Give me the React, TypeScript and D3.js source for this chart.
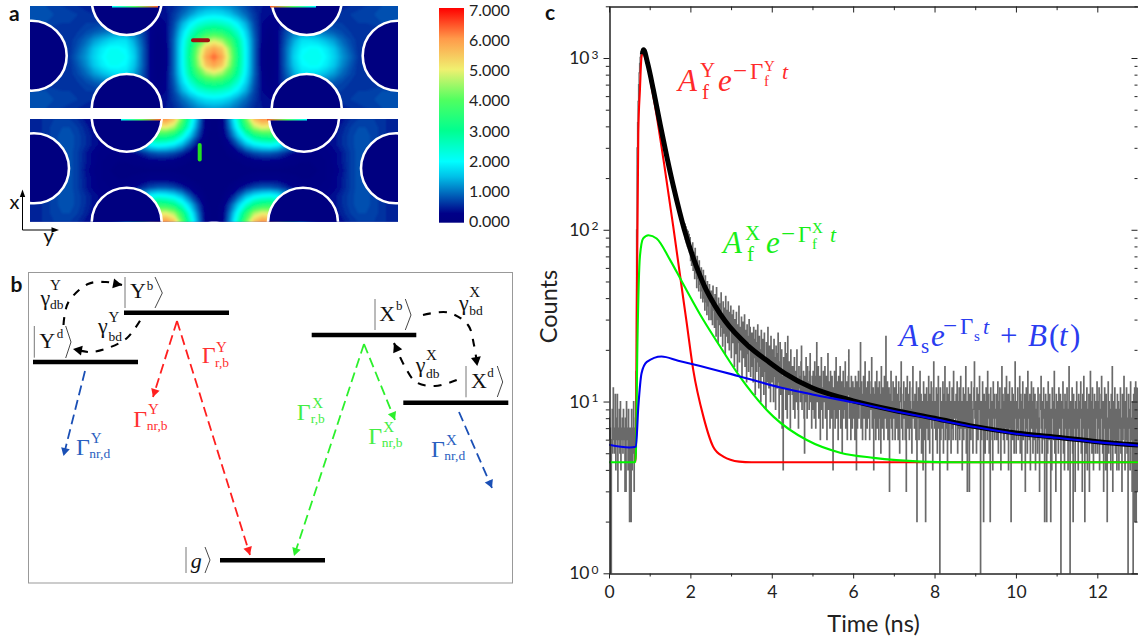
import { useEffect, useRef } from 'react';
import * as d3 from 'd3';

// ---- panel a: field maps, one quarter of each cell (the map is mirrored both ways)
const topField = [
  [.8,.8,.8,.75,.7,.65,.6,.55,.5,.5,.5,.5,.5,.5,.5,.45,.45,.5,.6,.8,1.0,1.2,1.3,1.35],
  [.85,.85,.85,.8,.8,.75,.7,.65,.6,.55,.5,.5,.5,.5,.45,.4,.4,.45,.7,1.0,1.3,1.6,1.8,1.85],
  [.8,.8,.8,.75,.7,.7,.7,.7,.7,.75,.8,.8,.8,.7,.5,.35,.3,.4,.8,1.4,1.9,2.3,2.5,2.6],
  [.6,.6,.6,.6,.6,.65,.7,.8,.9,1.0,1.1,1.2,1.2,1.1,.8,.4,.2,.4,.9,1.7,2.4,3.0,3.4,3.5],
  [.6,.6,.6,.6,.6,.65,.8,1.0,1.3,1.5,1.7,1.8,1.8,1.4,.9,.4,.15,.35,1.0,1.9,2.9,3.8,4.5,4.8],
  [.6,.6,.6,.6,.6,.65,.9,1.2,1.6,1.9,2.1,2.1,2.0,1.6,1.0,.4,.1,.3,1.0,2.0,3.1,4.4,5.5,5.9],
  [.6,.6,.6,.6,.6,.7,1.0,1.3,1.7,2.0,2.2,2.2,2.1,1.7,1.0,.4,.1,.3,1.0,2.0,3.2,4.6,5.9,6.4],
];
const bottomField = [
  [.5,.55,.65,.7,.7,.7,.6,.45,.4,.4,.5,1,2,3,4,5,6,6.1,5.6,4.2,2.6,1.3,.2,0],
  [.5,.55,.65,.75,.8,.8,.7,.55,.4,.4,.5,1,2,3,3.8,4.5,4.9,5.0,4.6,3.5,2.2,1.1,.2,0],
  [.5,.55,.65,.75,.85,.85,.75,.6,.45,.35,.5,.9,1.6,2.3,2.9,3.2,3.5,3.4,3.1,2.4,1.6,.8,.15,0],
  [.5,.55,.65,.75,.85,.85,.75,.6,.45,.35,.2,.5,.9,1.2,1.5,2,2.2,2.1,1.9,1.5,.9,.4,.1,0],
  [.5,.55,.65,.75,.85,.85,.7,.5,.35,.25,.2,.2,.3,.4,.6,.8,.9,.9,.8,.6,.35,.15,.05,0],
  [.5,.55,.65,.75,.85,.85,.7,.5,.35,.2,.15,.1,.1,.15,.2,.3,.3,.3,.25,.15,.1,.05,0,0],
  [.5,.55,.65,.75,.85,.85,.7,.45,.3,.2,.1,.05,.05,.05,.05,.05,.05,.05,.05,.05,0,0,0,0],
];
const colorValues = [0, 0.3, 1, 1.5, 2, 3, 4, 5, 6, 7];
const colorStops = ['#000080', '#000088', '#0070c0', '#00c0e8', '#00ffff', '#00ff90', '#50ff60', '#f0f070', '#ff9a4a', '#ff0000'];
const colorbarLabels = ['7.000', '6.000', '5.000', '4.000', '3.000', '2.000', '1.000', '0.000'];

const topHoles = [[126.7, 0], [306.7, 0], [126.7, 109], [306.7, 109], [31.7, 55.7], [397.7, 55.7]];
const bottomHoles = [[126.7, 116.7], [304, 116.7], [126.7, 222.7], [303, 222.7], [34, 168.3], [396, 168.3]];

// ---- panel b: level scheme
const levels = [
  [124, 229, 312.7], [33, 138, 362], [311.7, 416.3, 335], [403.3, 508.3, 402.7], [220, 325, 560.3],
];
const kets = [
  { main: 'Y', sup: 'b', bar: [125, 277, 308], mx: 130, my: 298, sx: 146.7, sy: 290, angle: [155, 162.3, 277, 293, 308] },
  { main: 'Y', sup: 'd', bar: [34.3, 326, 357.7], mx: 39.3, my: 347.7, sx: 56.7, sy: 338, angle: [65.7, 71, 326, 342, 358] },
  { main: 'X', sup: 'b', bar: [375, 299, 330], mx: 379.3, my: 321, sx: 396, sy: 310, angle: [405.3, 411, 299, 315, 330] },
  { main: 'X', sup: 'd', bar: [466, 366, 397.3], mx: 471, my: 388.3, sx: 487.3, sy: 377.3, angle: [497.3, 502.7, 366, 382, 397] },
  { main: 'g', sup: '', bar: [186, 547, 573], mx: 190.7, my: 568, sx: 0, sy: 0, angle: [205, 210, 547, 560, 573] },
];
const straightArrows = [
  { color: '#ff1f1f', pts: [[177, 321], [153, 397]] },
  { color: '#ff1f1f', pts: [[177, 321], [250, 555]] },
  { color: '#1a4fb5', pts: [[85, 371], [63.5, 456]] },
  { color: '#2cf02c', pts: [[364, 344], [294, 556]] },
  { color: '#2cf02c', pts: [[364, 344], [395, 420]] },
  { color: '#1a4fb5', pts: [[459, 412], [492, 488]] },
];
const curvedArrows = [
  [[63.5, 325], [68, 303], [88, 284], [106, 282], [122, 285]],
  [[140, 320.7], [127, 338], [108, 348], [90, 352], [73, 349]],
  [[423, 315], [448, 312.5], [468, 325], [474, 345], [477.3, 366]],
  [[456.7, 380], [435, 386], [416, 382], [404, 365], [394, 343]],
];
const rateLabels = [
  { color: '#111', sym: 'γ', sup: 'Y', sub: 'db', x: 40.5, y: 305, ux: 50, uy: 290, bx: 50, by: 309 },
  { color: '#111', sym: 'γ', sup: 'Y', sub: 'bd', x: 98, y: 333, ux: 108.5, uy: 322, bx: 108.5, by: 340.7 },
  { color: '#ff3030', sym: 'Γ', sup: 'Y', sub: 'r,b', x: 201.7, y: 363, ux: 216, uy: 351.7, bx: 215, by: 366.7 },
  { color: '#ff3030', sym: 'Γ', sup: 'Y', sub: 'nr,b', x: 133.3, y: 426.7, ux: 148, uy: 414, bx: 146.7, by: 430 },
  { color: '#2a5fc0', sym: 'Γ', sup: 'Y', sub: 'nr,d', x: 76, y: 455, ux: 90.7, uy: 442.7, bx: 89.3, by: 458.3 },
  { color: '#44ee44', sym: 'Γ', sup: 'X', sub: 'r,b', x: 296.7, y: 420, ux: 312.3, uy: 408.3, bx: 310.7, by: 423.3 },
  { color: '#44ee44', sym: 'Γ', sup: 'X', sub: 'nr,b', x: 368.3, y: 444, ux: 383.3, uy: 431.7, bx: 381.7, by: 447.3 },
  { color: '#2a5fc0', sym: 'Γ', sup: 'X', sub: 'nr,d', x: 431, y: 457.3, ux: 446, uy: 445, bx: 444.3, by: 460 },
  { color: '#111', sym: 'γ', sup: 'X', sub: 'bd', x: 459, y: 310, ux: 469.3, uy: 297.3, bx: 469.3, by: 315 },
  { color: '#111', sym: 'γ', sup: 'X', sub: 'db', x: 415.7, y: 371.7, ux: 426, uy: 360, bx: 426, by: 377.7 },
];

// ---- panel c: decay traces, [time ns, counts]
const binWidth = 0.0125;
const noiseCounts = [
  // 0.0
  8,6,7,1,1,6,9,5,12,6,7,5,11,4,8,6,11,3,7,6,9,5,10,4,7,6,8,5,9,6,7,3,8,3,10,6,7,4,9,6,
  // 0.5
  2,7,5,2,9,4,7,5,10,3,6,7,8,15,100,300,420,560,700,820,930,1010,1060,1090,1100,1090,1075,1060,1040,1020,1000,980,960,930,910,890,870,850,830,815,
  // 1.0
  800,775,750,727,704,682,660,640,620,600,580,562,545,528,510,494,478,462,447,433,420,406,392,380,367,355,343,332,320,310,300,290,280,270,261,252,244,236,228,222,
  // 1.5
  222,215,209,203,197,191,185,179,174,169,164,159,154,149,145,140,136,132,128,124,120,116,113,110,106,103,100,98,96,108,88,104,84,100,80,98,78,94,74,90,
  // 2.0
  66,80,62,72,84,58,74,66,52,78,56,64,46,70,58,52,44,66,54,48,40,60,50,44,38,58,46,40,34,54,44,38,32,50,42,36,30,48,38,44,
  // 2.5
  30,44,36,28,47,34,40,27,42,33,24,46,35,30,22,40,33,28,37,24,43,31,27,21,38,30,25,35,19,41,29,24,34,22,38,28,20,33,26,36,
  // 3.0
  18,32,25,22,34,27,16,30,24,19,33,26,15,28,22,36,17,27,23,20,31,14,25,29,18,23,32,16,26,21,13,28,24,19,15,30,22,27,14,25,
  // 3.5
  16,25,20,13,27,18,23,11,26,19,15,22,28,17,12,24,20,16,10,26,18,14,23,21,11,25,17,15,9,22,19,13,27,16,12,21,18,10,24,15,
  // 4.0
  13,20,16,10,23,14,18,9,21,15,12,19,25,13,8,17,22,11,15,20,7,14,4,18,12,16,22,9,14,19,8,24,13,11,17,15,7,20,12,16,
  // 4.5
  11,16,9,14,18,8,12,15,10,20,13,9,7,16,12,14,10,17,21,9,13,11,15,8,5,14,10,18,12,8,16,11,13,9,15,19,10,12,7,14,
  // 5.0
  9,15,11,8,17,13,7,14,22,10,12,16,8,11,14,6,13,18,9,12,7,15,10,13,16,8,11,14,6,12,19,9,13,10,7,15,11,8,14,12,
  // 5.5
  4,12,9,15,7,11,18,8,13,10,6,14,9,12,16,7,10,13,5,11,15,8,12,9,17,7,10,13,6,11,14,20,8,12,9,6,14,10,7,13,
  // 6.0
  8,12,10,6,14,9,4,13,7,11,15,8,10,12,22,7,13,9,6,11,14,8,10,17,6,12,9,7,13,10,8,15,6,11,9,13,18,7,10,12,
  // 6.5
  4,11,8,13,6,10,15,7,12,9,6,13,8,11,5,16,9,7,12,10,6,14,8,11,24,7,10,13,6,9,12,3,8,11,15,7,10,6,13,9,
  // 7.0
  8,12,6,10,14,7,9,11,6,13,8,5,10,12,17,7,9,6,11,13,8,10,6,12,3,9,14,7,11,8,6,13,10,7,9,5,12,16,8,10,
  // 7.5
  7,11,9,6,13,2,8,10,12,6,9,15,7,11,5,10,8,4,13,9,6,11,2,8,12,7,10,6,14,9,5,11,8,13,7,10,4,12,17,8,
  // 8.0
  7,10,6,12,9,5,11,14,7,8,1,12,6,10,9,7,13,5,11,8,16,6,10,7,12,4,9,11,6,13,8,10,5,9,12,7,6,15,8,10,
  // 8.5
  9,6,11,8,13,5,10,7,12,6,9,14,7,10,4,8,12,6,11,9,7,16,5,10,3,8,12,7,3,11,9,6,13,10,7,5,9,12,17,8,
  // 9.0
  7,10,5,12,8,6,11,9,14,7,1,10,6,8,13,7,2,11,9,5,10,12,7,6,15,8,11,5,9,2,12,7,10,6,4,13,8,11,6,9,
  // 9.5
  8,11,6,9,13,5,10,7,12,8,4,9,16,7,11,6,10,5,12,8,7,14,6,9,11,4,8,13,7,10,2,9,12,6,11,7,5,10,17,8,
  // 10.0
  5,10,7,12,6,9,8,14,5,11,7,4,10,13,6,9,8,11,3,7,12,9,5,15,8,10,6,11,4,9,13,7,10,5,12,8,6,11,4,9,
  // 10.5
  7,10,5,12,8,6,3,11,9,14,7,5,10,8,12,6,2,9,11,7,2,10,5,13,8,6,11,7,2,9,4,12,8,10,6,15,5,9,3,11,
  // 11.0
  6,10,8,5,12,7,9,11,1,6,10,8,13,5,9,4,11,7,10,6,12,8,4,9,16,7,1,10,6,8,12,5,2,11,9,7,3,10,6,13,
  // 11.5
  7,9,4,11,6,10,8,13,5,9,3,11,7,14,6,2,10,8,5,12,4,9,7,11,3,8,15,6,10,5,12,7,4,9,11,6,5,10,8,13,
  // 12.0
  5,10,7,12,4,9,6,11,14,8,5,10,3,7,12,9,4,11,6,2,8,13,5,10,7,9,4,11,6,16,3,10,8,6,12,5,9,7,4,11,
  // 12.5
  6,10,4,9,7,12,5,8,3,11,6,9,14,7,4,10,6,12,5,8,1,11,7,9,4,13,6,8,3,10,1,11,2,12,2,13,2,12,3,12,
];
const blackCurve = [
  [0.82, 1050], [0.85, 1116], [0.95, 930], [1.09, 653], [1.25, 420], [1.42, 267], [1.58, 180], [1.74, 126], [1.87, 96.6],
  [2.0, 76.7], [2.15, 61], [2.36, 46.2], [2.6, 36.3], [2.85, 29.5], [3.42, 21.1], [3.9, 17.2], [4.32, 14.6], [5, 12],
  [5.68, 10.6], [6, 10.1], [7, 8.9], [8, 8.0], [9, 7.14], [10, 6.56], [11, 6.2], [12, 5.84], [13, 5.58],
];
const redCurve = [
  [0.64, 4.43], [0.66, 5], [0.68, 30], [0.72, 365], [0.76, 653], [0.8, 1020], [0.84, 1070], [1.09, 596], [1.34, 255],
  [1.58, 104], [1.83, 39], [1.9, 29.8], [2.07, 15.3], [2.32, 8.17], [2.56, 5.46], [2.81, 4.78], [3.2, 4.47], [3.5, 4.43], [13, 4.43],
];
const greenCurve = [
  [0, 4.43], [0.64, 4.43], [0.66, 5], [0.7, 22.8], [0.76, 70], [0.84, 89], [0.97, 93], [1.17, 89], [1.5, 66.8], [1.79, 50],
  [2.32, 29.8], [2.73, 20.9], [3.22, 13.9], [4.04, 8.17], [4.86, 5.97], [5.68, 5.04], [6.5, 4.7], [7.68, 4.47], [8.5, 4.43], [13, 4.43],
];
const blueCurve = [
  [0, 5.6], [0.5, 5.4], [0.66, 5.45], [0.72, 9.3], [0.8, 14.6], [0.93, 17], [1.29, 18.3], [1.7, 17.3], [2.06, 16.5], [3.17, 14.1],
  [4.32, 11.9], [5, 11], [6, 9.9], [7, 8.8], [8, 7.9], [9, 7.1], [10, 6.5], [11, 6.15], [12, 5.8], [13, 5.55],
];
const xMajor = [0, 2, 4, 6, 8, 10, 12];
const xMinor = [1, 3, 5, 7, 9, 11, 13];
const yMajor = [1, 10, 100, 1000];
const yMinor = [2, 3, 4, 5, 6, 7, 8, 9, 20, 30, 40, 50, 60, 70, 80, 90, 200, 300, 400, 500, 600, 700, 800, 900, 2000];

// text, x, y, size, italic
const formulaRed = [
  ['A', 678, 90.7, 31, 1], ['Y', 700, 77, 21, 0], ['f', 702, 98.5, 21, 0], ['e', 718, 90.7, 31, 1], ['−', 733, 79, 25, 0],
  ['Γ', 750, 79, 23, 0], ['Y', 764, 70.7, 15, 0], ['f', 764, 86, 15, 0], ['t', 782, 79, 22, 1],
];
const formulaGreen = [
  ['A', 723, 253, 31, 1], ['X', 745, 239.5, 21, 0], ['f', 747, 261, 21, 0], ['e', 766, 253, 31, 1], ['−', 781, 242, 25, 0],
  ['Γ', 798, 242, 23, 0], ['X', 812, 233, 15, 0], ['f', 812, 249, 15, 0], ['t', 830, 242, 22, 1],
];
const formulaBlue = [
  ['A', 899, 346, 31, 1], ['s', 921, 353, 21, 0], ['e', 931, 346, 31, 1], ['−', 943, 334, 25, 0], ['Γ', 960, 334, 23, 0],
  ['s', 974, 341, 15, 0], ['t', 983, 334, 22, 1], ['+', 1000, 346, 31, 0], ['B', 1028, 346, 31, 1], ['(', 1049, 346, 31, 0],
  ['t', 1059, 346, 31, 1], [')', 1070, 346, 31, 0],
];

const SANS = 'Lato, sans-serif';
const SERIF = '"Liberation Serif", serif';

const mirror = (rows: number[][]) => {
  const wide = rows.map((r) => r.concat(r.slice(0, -1).reverse()));
  const all = wide.concat(wide.slice(0, -1).reverse());
  return { values: all.flat(), nx: all[0].length, ny: all.length };
};

const App = () => {
  const svgRef = useRef<SVGSVGElement>(null);

  useEffect(() => {
    const svg = d3.select(svgRef.current);
    svg.selectAll('*').remove();

    const defs = svg.append('defs');
    // the map group is scaled by the grid cell, so this is in cell units
    defs.append('filter').attr('id', 'soft').append('feGaussianBlur').attr('stdDeviation', 0.14);

    // ---- panel a
    const color = d3.scaleLinear<string>().domain(colorValues).range(colorStops).interpolate(d3.interpolateRgb);
    const thresholds = d3.range(0.1, 7, 0.1);

    const drawMap = (name: string, rows: number[][], holes: number[][], y0: number, y1: number, rim: number[]) => {
      defs.append('clipPath').attr('id', name).append('rect').attr('x', 30).attr('y', y0).attr('width', 368).attr('height', y1 - y0);
      const g = svg.append('g').attr('clip-path', `url(#${name})`);
      g.append('rect').attr('x', 30).attr('y', y0).attr('width', 368).attr('height', y1 - y0).attr('fill', '#000080');
      const { values, nx, ny } = mirror(rows);
      const cw = 368 / (nx - 1);
      const ch = (y1 - y0) / (ny - 1);
      const contours = d3.contours().size([nx, ny]).smooth(true).thresholds(thresholds)(values);
      g.append('g')
        .attr('filter', 'url(#soft)')
        .attr('transform', `translate(${30 - cw / 2},${y0 - ch / 2}) scale(${cw},${ch})`)
        .selectAll('path')
        .data(contours)
        .join('path')
        .attr('d', d3.geoPath())
        .attr('fill', (d) => color(d.value));
      g.selectAll('circle.hole')
        .data(holes)
        .join('circle')
        .attr('cx', (d) => d[0])
        .attr('cy', (d) => d[1])
        .attr('r', 35)
        .attr('fill', '#000080')
        .attr('stroke', '#fff')
        .attr('stroke-width', 2.6);
      // thin coloured rim where the hole meets the cut
      const [a, b] = rim;
      [[a, b], [428 - b, 428 - a]].forEach(([p, q], i) => {
        const id = `${name}rim${i}`;
        const grad = defs.append('linearGradient').attr('id', id);
        const cols = i === 0 ? ['#00ffff', '#50ff60', '#ff5a2a'] : ['#ff5a2a', '#50ff60', '#00ffff'];
        cols.forEach((c, k) => grad.append('stop').attr('offset', k / 2).attr('stop-color', c));
        g.append('rect').attr('x', p).attr('y', y0).attr('width', q - p).attr('height', 1.5).attr('fill', `url(#${id})`);
      });
    };
    drawMap('mapTop', topField, topHoles, 6, 108, [112, 158]);
    drawMap('mapBottom', bottomField, bottomHoles, 119, 221.7, [121, 161]);

    // source dipoles
    svg.append('line').attr('x1', 193).attr('x2', 208).attr('y1', 40.3).attr('y2', 40.3)
      .attr('stroke', '#a01212').attr('stroke-width', 4).attr('stroke-linecap', 'round');
    svg.append('line').attr('x1', 199.7).attr('x2', 199.7).attr('y1', 145).attr('y2', 159.5)
      .attr('stroke', '#22e022').attr('stroke-width', 4).attr('stroke-linecap', 'round');

    // colorbar
    const grad = defs.append('linearGradient').attr('id', 'cbar').attr('x1', 0).attr('x2', 0).attr('y1', 1).attr('y2', 0);
    colorValues.forEach((v, i) => grad.append('stop').attr('offset', v / 7).attr('stop-color', colorStops[i]));
    svg.append('rect').attr('x', 439).attr('y', 8).attr('width', 25).attr('height', 214.7).attr('fill', 'url(#cbar)');
    const barScale = d3.scaleLinear().domain([0, 7]).range([221.3, 10]);
    colorbarLabels.forEach((t) => {
      svg.append('text').attr('x', 469).attr('y', barScale(+t)).attr('dy', '0.36em')
        .attr('font-family', SANS).attr('font-size', 16).attr('fill', '#222').text(t);
    });

    // axes cross
    const cross = svg.append('g').attr('fill', '#000').attr('stroke', '#000');
    cross.append('path').attr('d', 'M22.5 230V195M22.5 230H54').attr('fill', 'none').attr('stroke-width', 1);
    cross.append('path').attr('d', 'M22.5 189.5L19.8 197L25.2 197Z').attr('stroke', 'none');
    cross.append('path').attr('d', 'M59 230L51.5 227.3L51.5 232.7Z').attr('stroke', 'none');
    svg.append('text').attr('x', 9.5).attr('y', 208.5).attr('font-family', SANS).attr('font-size', 20).attr('fill', '#111').text('x');
    svg.append('text').attr('x', 43.5).attr('y', 243).attr('font-family', SANS).attr('font-size', 20).attr('fill', '#111').text('y');

    // panel letters
    [['a', 9, 20.5], ['b', 10.5, 291.7], ['c', 545, 20]].forEach(([t, x, y]) => {
      svg.append('text').attr('x', x).attr('y', y).attr('font-family', SANS).attr('font-weight', 'bold').attr('font-size', 21).attr('fill', '#111').text(t as string);
    });

    // ---- panel b
    svg.append('rect').attr('x', 28.5).attr('y', 272.5).attr('width', 484).attr('height', 310.5)
      .attr('fill', 'none').attr('stroke', '#999').attr('stroke-width', 1);
    levels.forEach(([a, b, y]) => {
      svg.append('line').attr('x1', a).attr('x2', b).attr('y1', y).attr('y2', y).attr('stroke', '#000').attr('stroke-width', 4.6);
    });
    kets.forEach((k) => {
      svg.append('line').attr('x1', k.bar[0]).attr('x2', k.bar[0]).attr('y1', k.bar[1]).attr('y2', k.bar[2]).attr('stroke', '#777').attr('stroke-width', 1);
      const [a0, a1, y0, y1, y2] = k.angle;
      svg.append('path').attr('d', d3.line()([[a0, y0], [a1, y1], [a0, y2]])).attr('fill', 'none').attr('stroke', '#333').attr('stroke-width', 0.9);
      svg.append('text').attr('x', k.mx).attr('y', k.my).attr('font-family', SERIF).attr('font-size', 22).attr('fill', '#111')
        .attr('font-style', k.main === 'g' ? 'italic' : 'normal').text(k.main);
      if (k.sup) {
        svg.append('text').attr('x', k.sx).attr('y', k.sy).attr('font-family', SERIF).attr('font-size', 13).attr('fill', '#111').text(k.sup);
      }
    });

    const arrowHead = (g: any, from: number[], tip: number[], color: string, size: number) => {
      const ang = Math.atan2(tip[1] - from[1], tip[0] - from[0]);
      const base = [tip[0] - size * Math.cos(ang), tip[1] - size * Math.sin(ang)];
      const nx = -Math.sin(ang) * size * 0.55;
      const ny = Math.cos(ang) * size * 0.55;
      g.append('path')
        .attr('d', `M${tip[0]} ${tip[1]}L${base[0] + nx} ${base[1] + ny}L${base[0] - nx} ${base[1] - ny}Z`)
        .attr('fill', color);
    };
    straightArrows.forEach((a) => {
      svg.append('path').attr('d', d3.line()(a.pts as [number, number][])).attr('fill', 'none')
        .attr('stroke', a.color).attr('stroke-width', 1.8).attr('stroke-dasharray', '10 5');
      arrowHead(svg, a.pts[0], a.pts[1], a.color, 8);
    });
    const bend = d3.line().curve(d3.curveCatmullRom);
    curvedArrows.forEach((pts) => {
      svg.append('path').attr('d', bend(pts as [number, number][])).attr('fill', 'none')
        .attr('stroke', '#000').attr('stroke-width', 2.1).attr('stroke-dasharray', '8 8');
      arrowHead(svg, pts[pts.length - 2], pts[pts.length - 1], '#000', 9);
    });
    rateLabels.forEach((r) => {
      const t = (x: number, y: number, s: number, str: string) =>
        svg.append('text').attr('x', x).attr('y', y).attr('font-family', SERIF).attr('font-size', s).attr('fill', r.color).text(str);
      t(r.x, r.y, r.sym === 'Γ' ? 24 : 22, r.sym);
      t(r.ux, r.uy, 15, r.sup);
      t(r.bx, r.by, 13.5, r.sub);
    });

    // ---- panel c
    const x = d3.scaleLinear().domain([0, 13]).range([609, 1138]);
    const y = d3.scaleLog().domain([1, 2000]).range([573.3, 6.3]);

    defs.append('clipPath').attr('id', 'plot').append('rect').attr('x', 609).attr('y', 6).attr('width', 529).attr('height', 567.5);
    const plot = svg.append('g').attr('clip-path', 'url(#plot)');

    const noiseLine = d3.line<number>().x((_, i) => x(i * binWidth)).y((d) => y(d)).curve(d3.curveStepAfter);
    plot.append('path').attr('d', noiseLine(noiseCounts)).attr('fill', 'none').attr('stroke', '#6a6a6a').attr('stroke-width', 1.2);

    const fit = d3.line<number[]>().x((d) => x(d[0])).y((d) => y(d[1])).curve(d3.curveMonotoneX);
    const drawFit = (pts: number[][], col: string, w: number) =>
      plot.append('path').attr('d', fit(pts)).attr('fill', 'none').attr('stroke', col).attr('stroke-width', w);
    drawFit(redCurve, '#ff0000', 2.1);
    drawFit(greenCurve, '#00f400', 2.1);
    drawFit(blackCurve, '#000', 5);
    drawFit(blueCurve, '#0000f0', 2.1);

    const styleAxis = (g: any) => {
      g.selectAll('path,line').attr('stroke', '#222');
      g.selectAll('text').attr('font-family', SANS).attr('font-size', 17.5).attr('fill', '#222');
    };
    const addAxis = (gen: any, tx: number, ty: number) => {
      const g = svg.append('g').attr('transform', `translate(${tx},${ty})`).call(gen);
      styleAxis(g);
      return g;
    };
    addAxis(d3.axisBottom(x).tickValues(xMajor).tickSize(5).tickSizeOuter(0).tickPadding(7).tickFormat(d3.format('d')), 0, 573.5);
    addAxis(d3.axisBottom(x).tickValues(xMinor).tickSize(3).tickSizeOuter(0).tickFormat(() => ''), 0, 573.5);
    addAxis(d3.axisBottom(x).tickValues(xMajor).tickSize(6).tickSizeOuter(0).tickFormat(() => ''), 0, 6.5);
    addAxis(d3.axisBottom(x).tickValues(xMinor).tickSize(3.7).tickSizeOuter(0).tickFormat(() => ''), 0, 6.5);
    const left = addAxis(d3.axisLeft(y).tickValues(yMajor).tickSize(6).tickSizeOuter(0).tickPadding(5).tickFormat(() => '10'), 609.5, 0);
    left.selectAll('.tick text').append('tspan')
      .attr('dy', '-0.45em').attr('dx', '2').attr('font-size', 12)
      .text((d: any) => String(Math.round(Math.log10(d))));
    addAxis(d3.axisLeft(y).tickValues(yMinor).tickSize(3.7).tickSizeOuter(0).tickFormat(() => ''), 609.5, 0);
    const right = (vals: number[], size: number) => {
      const g = addAxis(d3.axisRight(y).tickValues(vals).tickSize(-size).tickSizeOuter(0).tickFormat(() => ''), 1137.5, 0);
      g.select('.domain').remove();
    };
    right(yMajor, 6);
    right(yMinor, 3);

    svg.append('text').attr('transform', 'translate(557,306.5) rotate(-90)').attr('text-anchor', 'middle')
      .attr('font-family', SANS).attr('font-size', 23.5).attr('fill', '#222').text('Counts');
    svg.append('text').attr('x', 873.5).attr('y', 632).attr('text-anchor', 'middle')
      .attr('font-family', SANS).attr('font-size', 23.5).attr('fill', '#222').text('Time (ns)');

    const drawFormula = (pieces: any[], col: string) => {
      pieces.forEach(([t, px, py, size, ital]) => {
        svg.append('text').attr('x', px).attr('y', py).attr('font-family', SERIF).attr('font-size', size)
          .attr('font-style', ital ? 'italic' : 'normal').attr('fill', col).text(t);
      });
    };
    drawFormula(formulaRed, '#ff2a2a');
    drawFormula(formulaGreen, '#18ee18');
    drawFormula(formulaBlue, '#2a3cf0');
  }, []);

  return (
    <svg
      ref={svgRef}
      width={1138}
      height={644}
      style={{ position: 'absolute', left: 0, top: 0, background: '#fff' }}
    />
  );
};

export default App;
